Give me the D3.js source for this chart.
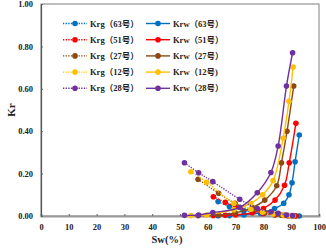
<!DOCTYPE html>
<html>
<head>
<meta charset="utf-8">
<script src="https://cdn.jsdelivr.net/npm/d3@7"></script>
<style>
  body { margin: 0; background: #fff; }
  text { font-family: "Liberation Serif", "Noto Sans CJK SC", serif; font-weight: bold; fill: #222; }
</style>
</head>
<body>
<div id="chart"></div>
<script>
// samples (core numbers) and colours
const samples = ["63", "51", "27", "12", "28"];
const colors = ["#0070C0", "#FF0000", "#8B4A14", "#FFC000", "#7030A0"];

// water saturation (%) per sample
const sw63 = [63.7, 67.8, 73.0, 79.0, 84.0, 87.3, 89.2, 90.3, 91.4, 92.9];
const sw51 = [62.0, 66.3, 70.0, 76.0, 80.0, 84.2, 87.6, 89.3, 91.7];
const sw27 = [56.5, 63.9, 69.8, 76.0, 80.5, 84.8, 86.5, 88.5, 90.9];
const sw12 = [53.9, 59.6, 69.4, 75.5, 79.7, 83.5, 87.1, 89.2, 90.7];
const sw28 = [51.6, 56.7, 61.8, 71.5, 77.8, 82.7, 85.3, 88.3, 90.5];

// gas relative permeability
const krg63 = [0.068, 0.044, 0.025, 0.012, 0.006, 0.003, 0.002, 0.001, 0.001, 0.0];
const krg51 = [0.091, 0.065, 0.045, 0.022, 0.012, 0.006, 0.003, 0.001, 0.0];
const krg27 = [0.173, 0.107, 0.060, 0.030, 0.016, 0.008, 0.004, 0.002, 0.001];
const krg12 = [0.209, 0.159, 0.060, 0.032, 0.018, 0.010, 0.005, 0.002, 0.001];
const krg28 = [0.251, 0.204, 0.162, 0.079, 0.035, 0.020, 0.013, 0.005, 0.002];

// water relative permeability
const krw63 = [0.001, 0.002, 0.006, 0.015, 0.035, 0.060, 0.100, 0.157, 0.256, 0.382];
const krw51 = [0.002, 0.003, 0.006, 0.015, 0.035, 0.075, 0.145, 0.251, 0.437];
const krw27 = [0.002, 0.005, 0.015, 0.040, 0.075, 0.143, 0.251, 0.400, 0.613];
const krw12 = [0.002, 0.005, 0.030, 0.060, 0.100, 0.167, 0.367, 0.541, 0.703];
const krw28 = [0.003, 0.005, 0.016, 0.041, 0.110, 0.205, 0.330, 0.613, 0.770];

const swAll = [sw63, sw51, sw27, sw12, sw28];
const krgAll = [krg63, krg51, krg27, krg12, krg28];
const krwAll = [krw63, krw51, krw27, krw12, krw28];

const xTicks = [0, 10, 20, 30, 40, 50, 60, 70, 80, 90, 100];
const yTicks = [0, 0.2, 0.4, 0.6, 0.8, 1.0];

const width = 326, height = 248;
const margin = { top: 4, right: 7, bottom: 32, left: 41 };

const svg = d3.select("#chart").append("svg")
  .attr("width", width)
  .attr("height", height);

const x = d3.scaleLinear().domain([0, 100]).range([margin.left, width - margin.right]);
const y = d3.scaleLinear().domain([0, 1]).range([height - margin.bottom, margin.top]);

// plot frame (top / right)
svg.append("rect")
  .attr("x", x(0)).attr("y", y(1))
  .attr("width", x(100) - x(0)).attr("height", y(0) - y(1))
  .attr("fill", "none").attr("stroke", "#7f7f7f").attr("stroke-width", 1);

// axes
const xAxis = svg.append("g")
  .attr("transform", `translate(0,${y(0)})`)
  .call(d3.axisBottom(x).tickValues(xTicks).tickSize(-2).tickPadding(8).tickFormat(d3.format("d")));
const yAxis = svg.append("g")
  .attr("transform", `translate(${x(0)},0)`)
  .call(d3.axisLeft(y).tickValues(yTicks).tickSize(-2).tickPadding(8).tickFormat(d3.format(".2f")));

xAxis.select(".domain").attr("stroke", "#999").attr("stroke-width", 2);
yAxis.select(".domain").attr("stroke", "#555").attr("stroke-width", 1.2);
[xAxis, yAxis].forEach(a => {
  a.selectAll(".tick line").attr("stroke", "#666");
  a.selectAll(".tick text").style("font-size", "8.5px").style("font-family", "Liberation Serif").style("font-weight", "bold").attr("fill", "#222");
});

// axis titles
svg.append("text")
  .attr("x", 167).attr("y", 243)
  .attr("text-anchor", "middle")
  .style("font-size", "10.5px")
  .text("Sw(%)");
svg.append("text")
  .attr("transform", `translate(15,${(y(0) + y(1)) / 2}) rotate(-90)`)
  .attr("text-anchor", "middle")
  .style("font-size", "11px")
  .text("Kr");

const line = d3.line()
  .x(d => x(d[0]))
  .y(d => y(d[1]))
  .curve(d3.curveCatmullRom.alpha(0.5));

// draw series: Krg dotted, Krw solid
samples.forEach((s, i) => {
  const gas = swAll[i].map((v, j) => [v, krgAll[i][j]]);
  const water = swAll[i].map((v, j) => [v, krwAll[i][j]]);
  const g = svg.append("g");

  g.append("path").datum(gas)
    .attr("d", line)
    .attr("fill", "none")
    .attr("stroke", colors[i])
    .attr("stroke-width", 1.3)
    .attr("stroke-dasharray", "1.3,1.3");
  g.selectAll("circle.g").data(gas).enter().append("circle")
    .attr("class", "g")
    .attr("cx", d => x(d[0])).attr("cy", d => y(d[1]))
    .attr("r", 2.8).attr("fill", colors[i]);

  g.append("path").datum(water)
    .attr("d", line)
    .attr("fill", "none")
    .attr("stroke", colors[i])
    .attr("stroke-width", 1.4);
  g.selectAll("circle.w").data(water).enter().append("circle")
    .attr("class", "w")
    .attr("cx", d => x(d[0])).attr("cy", d => y(d[1]))
    .attr("r", 2.8).attr("fill", colors[i]);
});

// legend
const legend = svg.append("g");
samples.forEach((s, i) => {
  const ly = 23.5 + i * 16.2;
  [
    { x0: 63, label: `Krg（${s}号）`, dash: "1.3,1.3" },
    { x0: 146, label: s === "12" ? `Krw（${s}号)` : `Krw（${s}号）`, dash: null }
  ].forEach(c => {
    legend.append("line")
      .attr("x1", c.x0).attr("x2", c.x0 + 24)
      .attr("y1", ly).attr("y2", ly)
      .attr("stroke", colors[i])
      .attr("stroke-width", 1.4)
      .attr("stroke-dasharray", c.dash);
    legend.append("circle")
      .attr("cx", c.x0 + 12).attr("cy", ly)
      .attr("r", 2.8).attr("fill", colors[i]);
    legend.append("text")
      .attr("x", c.x0 + 27).attr("y", ly + 3)
      .style("font-size", "8.5px")
      .text(c.label);
  });
});
</script>
</body>
</html>
